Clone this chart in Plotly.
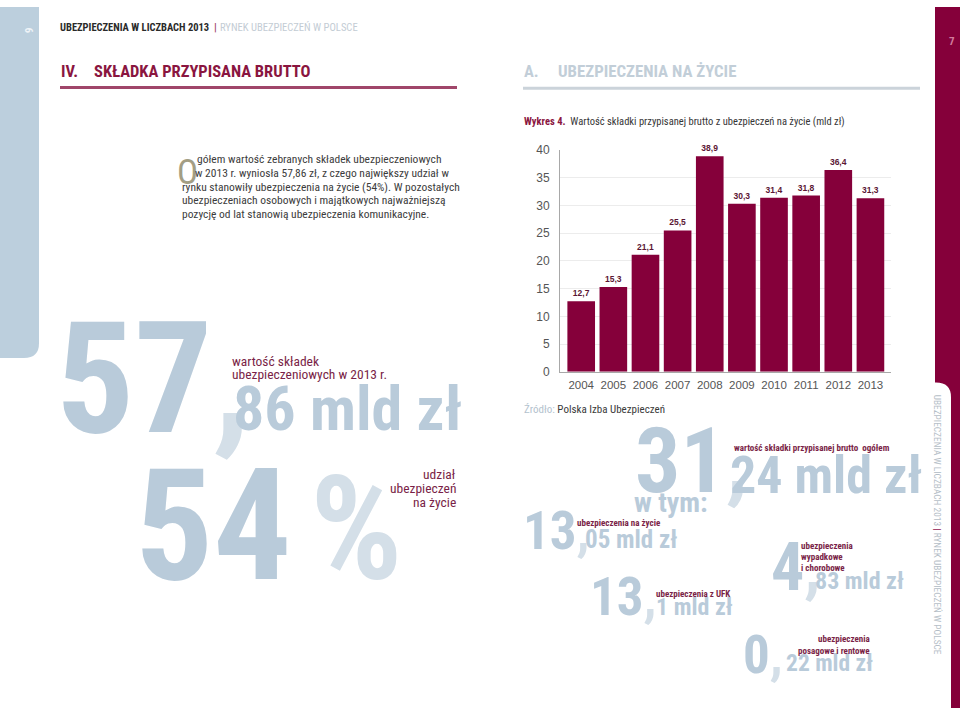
import plotly.graph_objects as go

# ---------------- data ----------------
years = ["2004", "2005", "2006", "2007", "2008", "2009", "2010", "2011", "2012", "2013"]
life_premium = [12.7, 15.3, 21.1, 25.5, 38.9, 30.3, 31.4, 31.8, 36.4, 31.3]
y_ticks = [0, 5, 10, 15, 20, 25, 30, 35, 40]

W, H = 960, 715
NARROW = "Liberation Sans Narrow, Arial Narrow, Roboto Condensed, Liberation Sans, sans-serif"
SANS = "Liberation Sans, Arial, sans-serif"
BLUE = "#b9cbda"
BLUE_L = "#d4dfe8"
MAROON = "#85003a"
MAROON_T = "#7a1f47"
DARK = "#363636"
DESC = 0.212


def px(x):
    return x / W


def py(y):
    return 1 - y / H


annots = []


def T(text, x, base, size, color, bold=False, anchor="left", family=NARROW, angle=0, yanchor=None):
    d = dict(text=text, x=px(x), xref="paper", yref="paper", xanchor=anchor,
             showarrow=False, borderpad=0, align=anchor if anchor != "center" else "center",
             font=dict(size=size, color=color, family=family, weight=700 if bold else 400),
             textangle=angle)
    if yanchor is None:
        d["y"] = py(base + DESC * size)
        d["yanchor"] = "bottom"
    else:
        d["y"] = py(base)
        d["yanchor"] = yanchor
    annots.append(d)


fig = go.Figure()
fig.add_trace(go.Bar(
    x=years, y=life_premium, marker=dict(color=MAROON, line=dict(width=0)),
    texttemplate="%{y:.1f}", textposition="outside", cliponaxis=False,
    textfont=dict(size=8.5, color="#5b1634", family=SANS, weight=700),
    hoverinfo="skip"))

shapes = []
# left light-blue strip with rounded bottom corner
shapes.append(dict(type="path", xref="paper", yref="paper", line=dict(width=0), fillcolor="#bccfdd",
                   path=f"M{px(0)},{py(0)} L{px(39)},{py(0)} L{px(39)},{py(343)} "
                        f"Q{px(39)},{py(358)} {px(24)},{py(358)} L{px(0)},{py(358)} Z"))
# right maroon strip
shapes.append(dict(type="path", xref="paper", yref="paper", line=dict(width=0), fillcolor=MAROON,
                   path=f"M{px(935)},{py(0)} L{px(960)},{py(0)} L{px(960)},{py(715)} L{px(951)},{py(715)} "
                        f"L{px(951)},{py(398)} Q{px(951)},{py(383)} {px(936)},{py(383)} L{px(935)},{py(383)} Z"))
# heading underlines
shapes.append(dict(type="line", xref="paper", yref="paper", x0=px(60), x1=px(457), y0=py(82), y1=py(82),
                   line=dict(color="#a0466a", width=3)))
shapes.append(dict(type="line", xref="paper", yref="paper", x0=px(523), x1=px(920), y0=py(83), y1=py(83),
                   line=dict(color="#cbd3da", width=3)))

# ---------------- header texts ----------------
T("6", 28, 24, 11, "#eef3f7", bold=True, anchor="center", angle=90, yanchor="middle")
T("7", 952, 35, 11, "#d27a9c", bold=True, anchor="center", yanchor="middle")
T("UBEZPIECZENIA W LICZBACH 2013", 59, 26, 10.5, "#2a2a2a", bold=True)
T("|", 213, 26, 11, "#a0466a", bold=True)
T("RYNEK UBEZPIECZEŃ W POLSCE", 219, 26, 10.6, "#c3ccd4")
T("IV.", 60, 73, 16.5, "#8a1540", bold=True)
T("SKŁADKA PRZYPISANA BRUTTO", 93, 73, 16.5, "#8a1540", bold=True)
T("A.", 523, 73, 16.5, "#c2ced8", bold=True)
T("UBEZPIECZENIA NA ŻYCIE", 557, 73, 16.8, "#c2ced8", bold=True)
T("<span style='color:#8a1540'><b>Wykres 4.</b></span>  Wartość składki przypisanej brutto "
  "z ubezpieczeń na życie (mld zł)", 523, 122, 10.5, DARK)

# paragraph
T("O", 176, 183, 35, "#a39e84")
para = [
    ("gółem wartość zebranych składek ubezpieczeniowych", 196, 161),
    ("w 2013 r. wyniosła 57,86 zł, z czego największy udział w", 194, 175),
    ("rynku stanowiły ubezpieczenia na życie (54%). W pozostałych", 181, 189),
    ("ubezpieczeniach osobowych i majątkowych najważniejszą", 181, 203),
    ("pozycję od lat stanowią ubezpieczenia komunikacyjne.", 181, 217),
]
for s, x, b in para:
    T(s, x, b, 11.5, "#3c3c3c")

# ---------------- left big figures ----------------
T(f"57<span style='color:{BLUE_L}'>,</span>", 55, 440, 155, BLUE, bold=True)
T("86 mld zł", 232, 435, 62, BLUE, bold=True)
T("wartość składek", 231, 367, 13.5, MAROON_T)
T("ubezpieczeniowych w 2013 r.", 231, 381, 13.5, MAROON_T)
T("54", 134, 590, 155, BLUE, bold=True)
T("%", 309, 589, 145, BLUE_L, bold=True)
T("udział", 457, 483, 13.5, MAROON_T, anchor="right")
T("ubezpieczeń", 457, 497, 13.5, MAROON_T, anchor="right")
T("na życie", 457, 511, 13.5, MAROON_T, anchor="right")

# ---------------- right bottom figures ----------------
T("<span style='color:#b3c2ce'>Źródło:</span> Polska Izba Ubezpieczeń", 523, 416, 11, "#3a3a3a")
T(f"31<span style='color:{BLUE_L}'>,</span>", 634, 499, 90, BLUE, bold=True)
T("24 mld zł", 729, 499, 52, BLUE, bold=True)
T("wartość składki przypisanej brutto  ogółem", 733, 454, 9, MAROON_T, bold=True)
T("w tym:", 633, 517, 28, BLUE, bold=True)
T(f"13<span style='color:{BLUE_L}'>,</span>", 522, 556, 53, BLUE, bold=True)
T("05 mld zł", 584, 554, 25, BLUE, bold=True)
T("ubezpieczenia na życie", 576, 531, 9, MAROON_T, bold=True)
T(f"13<span style='color:{BLUE_L}'>,</span>", 589, 623, 53, BLUE, bold=True)
T("1 mld zł", 655, 622, 24, BLUE, bold=True)
T("ubezpieczenia z UFK", 655, 603, 9, MAROON_T, bold=True)
T(f"4<span style='color:{BLUE_L}'>,</span>", 770, 598, 66, BLUE, bold=True)
T("83 mld zł", 814, 596, 24, BLUE, bold=True)
T("ubezpieczenia", 800, 554, 9, MAROON_T, bold=True)
T("wypadkowe", 800, 565, 9, MAROON_T, bold=True)
T("i chorobowe", 800, 576, 9, MAROON_T, bold=True)
T(f"0<span style='color:{BLUE_L}'>,</span>", 742, 682, 53, BLUE, bold=True)
T("22 mld zł", 785, 679, 23.5, BLUE, bold=True)
T("ubezpieczenia", 871, 649, 9, MAROON_T, bold=True, anchor="right")
T("posagowe i rentowe", 871, 661, 9, MAROON_T, bold=True, anchor="right")

# vertical side text
T("UBEZPIECZENIA W LICZBACH 2013 <span style='color:#85003a'>|</span> RYNEK UBEZPIECZEŃ W POLSCE",
  937, 528, 9.4, "#b5bec7", anchor="center", angle=90, yanchor="middle")

fig.update_layout(
    width=W, height=H, margin=dict(l=0, r=0, t=0, b=0),
    paper_bgcolor="white", plot_bgcolor="white", showlegend=False,
    bargap=0.14, separators=", ",
    xaxis=dict(domain=[px(560), px(891)], type="category", range=[-0.66, 9.64],
               showgrid=False, showline=True, linecolor="#a8a8a8", linewidth=1,
               ticks="", ticklabelstandoff=2, fixedrange=True,
               tickfont=dict(family=SANS, size=11.5, color="#555555")),
    yaxis=dict(domain=[py(372), py(146)], range=[0, 40], tickvals=y_ticks,
               showgrid=True, gridcolor="#ececec", gridwidth=1, zeroline=False,
               showline=True, linecolor="#a8a8a8", linewidth=1,
               ticks="", ticklabelstandoff=7, fixedrange=True,
               tickfont=dict(family=SANS, size=12, color="#555555")),
    annotations=annots, shapes=shapes,
)

fig.write_html("out.html", config={"displayModeBar": False},
               post_script="document.body.style.margin='0';document.body.style.overflow='hidden';")
